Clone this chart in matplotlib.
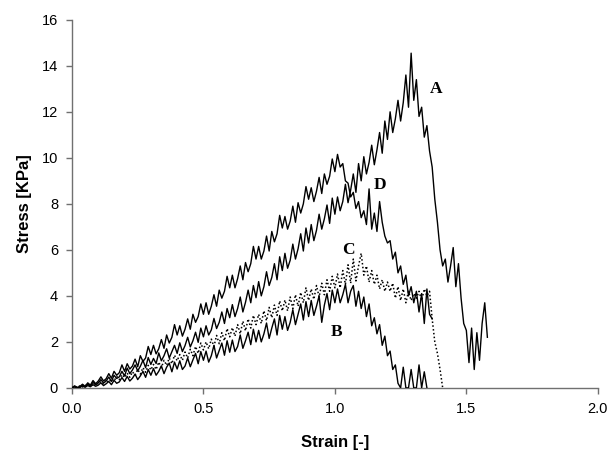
import matplotlib
matplotlib.use("Agg")
import matplotlib.pyplot as plt

# strain sample points [-], shared by all four curves
STRAIN = [
    0.00, 0.01, 0.02, 0.03, 0.04, 0.05, 0.06, 0.07, 0.08, 0.09,
    0.10, 0.11, 0.12, 0.13, 0.14, 0.15, 0.16, 0.17, 0.18, 0.19,
    0.20, 0.21, 0.22, 0.23, 0.24, 0.25, 0.26, 0.27, 0.28, 0.29,
    0.30, 0.31, 0.32, 0.33, 0.34, 0.35, 0.36, 0.37, 0.38, 0.39,
    0.40, 0.41, 0.42, 0.43, 0.44, 0.45, 0.46, 0.47, 0.48, 0.49,
    0.50, 0.51, 0.52, 0.53, 0.54, 0.55, 0.56, 0.57, 0.58, 0.59,
    0.60, 0.61, 0.62, 0.63, 0.64, 0.65, 0.66, 0.67, 0.68, 0.69,
    0.70, 0.71, 0.72, 0.73, 0.74, 0.75, 0.76, 0.77, 0.78, 0.79,
    0.80, 0.81, 0.82, 0.83, 0.84, 0.85, 0.86, 0.87, 0.88, 0.89,
    0.90, 0.91, 0.92, 0.93, 0.94, 0.95, 0.96, 0.97, 0.98, 0.99,
    1.00, 1.01, 1.02, 1.03, 1.04, 1.05, 1.06, 1.07, 1.08, 1.09,
    1.10, 1.11, 1.12, 1.13, 1.14, 1.15, 1.16, 1.17, 1.18, 1.19,
    1.20, 1.21, 1.22, 1.23, 1.24, 1.25, 1.26, 1.27, 1.28, 1.29,
    1.30, 1.31, 1.32, 1.33, 1.34, 1.35, 1.36, 1.37, 1.38, 1.39,
    1.40, 1.41, 1.42, 1.43, 1.44, 1.45, 1.46, 1.47, 1.48, 1.49,
    1.50, 1.51, 1.52, 1.53, 1.54, 1.55, 1.56, 1.57, 1.58,
]

# stress [KPa], one value per strain step
STRESS_A = [
    0.00, 0.06, 0.01, 0.04, 0.12, 0.05, 0.16, 0.09, 0.24, 0.13, 0.22,
    0.36, 0.21, 0.30, 0.47, 0.28, 0.55, 0.41, 0.48, 0.72, 0.52,
    0.86, 0.62, 0.78, 1.00, 0.74, 0.94, 1.20, 0.88, 1.32, 1.02,
    1.28, 1.06, 1.52, 1.18, 1.40, 1.70, 1.30, 1.58, 1.85, 1.50,
    1.96, 1.58, 1.84, 2.20, 1.78, 2.05, 2.42, 1.98, 2.60, 2.22,
    2.70, 2.30, 2.52, 3.02, 2.58, 2.85, 3.30, 2.80, 3.45, 3.05,
    3.62, 3.10, 3.45, 3.95, 3.30, 3.72, 4.25, 3.70, 4.45, 3.92,
    4.62, 4.00, 4.40, 5.05, 4.45, 4.80, 5.40, 4.70, 5.70, 5.10,
    5.85, 5.20, 5.55, 6.25, 5.60, 6.05, 6.70, 5.95, 6.95, 6.30,
    7.10, 6.40, 6.85, 7.55, 6.90, 7.35, 7.95, 7.15, 8.25, 7.55,
    8.30, 7.70, 8.10, 8.85, 8.05, 8.60, 9.30, 8.50, 9.75, 9.00,
    10.05, 9.30, 9.80, 10.55, 9.70, 10.35, 11.10, 10.20, 11.60, 10.80,
    12.00, 11.10, 11.70, 12.50, 11.60, 12.40, 13.60, 12.20, 14.55, 12.50,
    13.40, 11.80, 12.20, 10.90, 11.40, 10.30, 9.60, 8.20, 7.20, 6.00,
    5.30, 5.60, 4.60, 5.30, 6.10, 4.40, 5.40, 3.90, 2.80, 2.50,
    1.10, 2.60, 0.80, 2.40, 1.20, 2.80, 3.70, 2.20,
]
STRESS_B = [
    0.00, 0.04, 0.00, 0.02, 0.08, 0.03, 0.10, 0.05, 0.14, 0.07, 0.12,
    0.22, 0.10, 0.18, 0.28, 0.14, 0.33, 0.20, 0.26, 0.45, 0.28,
    0.50, 0.30, 0.42, 0.60, 0.36, 0.52, 0.72, 0.46, 0.80, 0.55,
    0.84, 0.55, 0.72, 0.96, 0.62, 0.90, 1.08, 0.70, 1.12, 0.82,
    1.18, 0.80, 0.95, 1.30, 0.92, 1.22, 1.50, 1.05, 1.58, 1.20,
    1.60, 1.12, 1.40, 1.85, 1.30, 1.62, 1.95, 1.42, 2.05, 1.55,
    2.08, 1.58, 1.80, 2.30, 1.72, 2.05, 2.42, 1.88, 2.55, 2.00,
    2.50, 2.00, 2.35, 2.82, 2.15, 2.60, 3.00, 2.30, 3.15, 2.55,
    3.10, 2.50, 2.85, 3.40, 2.75, 3.20, 3.65, 2.95, 3.75, 3.10,
    3.80, 3.15, 3.55, 4.00, 2.85, 3.60, 4.10, 3.40, 4.25, 3.70,
    4.30, 3.70, 4.05, 4.50, 3.70, 4.20, 4.45, 3.55, 4.20, 3.45,
    3.95, 3.10, 3.65, 2.70, 3.05, 2.35, 2.75, 1.85, 2.25, 1.40,
    1.60, 0.80, 1.00, 0.20, 0.00, 0.90, 0.00, 0.00, 0.80, 0.00,
    0.00, 1.00, 0.00, 0.70, 0.00,
]
STRESS_C = [
    0.00, 0.05, 0.01, 0.09, 0.04, 0.13, 0.07, 0.18, 0.10, 0.24, 0.16,
    0.28, 0.18, 0.35, 0.24, 0.40, 0.30, 0.50, 0.36, 0.58, 0.45,
    0.64, 0.46, 0.70, 0.55, 0.80, 0.60, 0.88, 0.68, 0.98, 0.78,
    1.02, 0.80, 1.12, 0.88, 1.20, 0.98, 1.30, 1.05, 1.42, 1.18,
    1.45, 1.20, 1.56, 1.30, 1.68, 1.40, 1.80, 1.50, 1.95, 1.65,
    2.00, 1.70, 2.12, 1.80, 2.28, 1.92, 2.40, 2.05, 2.58, 2.22,
    2.62, 2.25, 2.75, 2.35, 2.90, 2.48, 3.00, 2.60, 3.15, 2.75,
    3.20, 2.80, 3.35, 2.92, 3.50, 3.05, 3.60, 3.15, 3.78, 3.35,
    3.82, 3.35, 3.95, 3.45, 4.05, 3.55, 4.15, 3.70, 4.35, 3.80,
    4.30, 3.85, 4.45, 3.95, 4.55, 4.05, 4.70, 4.20, 4.85, 4.35,
    4.95, 4.35, 5.10, 4.50, 5.35, 4.55, 5.60, 4.65, 5.30, 5.85,
    4.90, 5.30, 4.60, 5.10, 4.50, 4.90, 4.30, 4.70, 4.20, 4.60,
    4.20, 4.55, 3.90, 4.40, 3.80, 4.30, 3.70, 4.20, 3.80, 4.10,
    3.90, 4.20, 3.80, 4.30, 4.00, 4.20, 3.00, 2.00, 1.50, 0.80,
    0.00,
]
STRESS_D = [
    0.00, 0.09, 0.02, 0.06, 0.16, 0.07, 0.22, 0.12, 0.32, 0.18, 0.30,
    0.48, 0.30, 0.40, 0.62, 0.42, 0.72, 0.55, 0.66, 1.00, 0.72,
    1.05, 0.82, 0.95, 1.25, 0.92, 1.40, 1.15, 1.30, 1.80, 1.45,
    1.85, 1.48, 1.70, 2.10, 1.72, 2.30, 1.95, 2.20, 2.75, 2.30,
    2.70, 2.25, 2.55, 3.00, 2.55, 3.20, 2.85, 3.10, 3.65, 3.20,
    3.70, 3.20, 3.55, 4.05, 3.55, 4.25, 3.90, 4.20, 4.85, 4.35,
    4.90, 4.35, 4.75, 5.30, 4.70, 5.45, 5.05, 5.40, 6.15, 5.60,
    6.15, 5.60, 5.95, 6.60, 5.95, 6.80, 6.35, 6.70, 7.50, 6.95,
    7.45, 6.90, 7.25, 7.90, 7.20, 8.05, 7.60, 8.00, 8.75, 8.20,
    8.70, 8.10, 8.55, 9.15, 8.45, 9.30, 8.85, 9.20, 9.95, 9.40,
    10.15, 9.60, 9.75, 9.00, 8.90, 8.30, 8.50, 7.80, 8.10, 7.40,
    7.70, 7.10, 8.65, 6.90, 7.60, 6.80, 8.10, 7.20, 6.60, 6.30,
    6.40, 5.60, 5.90, 5.00, 5.30, 4.50, 4.90, 4.00, 4.40, 3.70,
    4.20, 3.30, 4.10, 2.80, 4.30, 3.20, 3.00,
]

CURVES = ["A", "B", "C", "D"]
X_TICKS = [0.0, 0.5, 1.0, 1.5, 2.0]
Y_TICKS = [0, 2, 4, 6, 8, 10, 12, 14, 16]

# curve letters: (strain, stress) where each is printed
LABEL_POS = {"A": (1.385, 13.0), "B": (1.005, 2.45), "C": (1.05, 6.0), "D": (1.17, 8.8)}

fig = plt.figure(figsize=(6.1, 4.5), dpi=100)
ax = fig.add_axes([0.118, 0.138, 0.862, 0.818])

series = {"A": STRESS_A, "B": STRESS_B, "C": STRESS_C, "D": STRESS_D}
for name in CURVES:
    ys = series[name]
    if name == "C":
        ax.plot(STRAIN[:len(ys)], ys, color="black", linestyle=(0, (1, 1.5)),
                linewidth=1.1, zorder=3)
    else:
        ax.plot(STRAIN[:len(ys)], ys, color="black", linestyle="-",
                linewidth=1.0, zorder=3)
    lx, ly = LABEL_POS[name]
    ax.text(lx, ly, name, fontsize=12.5, fontweight="bold",
            family="Liberation Serif", ha="center", va="center")

ax.set_xlim(0, 2.0)
ax.set_ylim(0, 16)
ax.set_xticks(X_TICKS)
ax.set_xticklabels([f"{v:.1f}" for v in X_TICKS])
ax.set_yticks(Y_TICKS)

for side in ("top", "right"):
    ax.spines[side].set_visible(False)
for side in ("left", "bottom"):
    ax.spines[side].set_color("#707070")
    ax.spines[side].set_linewidth(1.0)
ax.tick_params(direction="out", length=4, width=1.0, color="#707070",
               labelsize=10.5, pad=6)
for lab in ax.get_xticklabels() + ax.get_yticklabels():
    lab.set_family("Liberation Sans")

ax.set_xlabel("Strain [-]", fontsize=12, fontweight="bold",
              family="Liberation Sans", labelpad=14)
ax.set_ylabel("Stress [KPa]", fontsize=12, fontweight="bold",
              family="Liberation Sans", labelpad=7)

fig.savefig("out.png", dpi=100)
